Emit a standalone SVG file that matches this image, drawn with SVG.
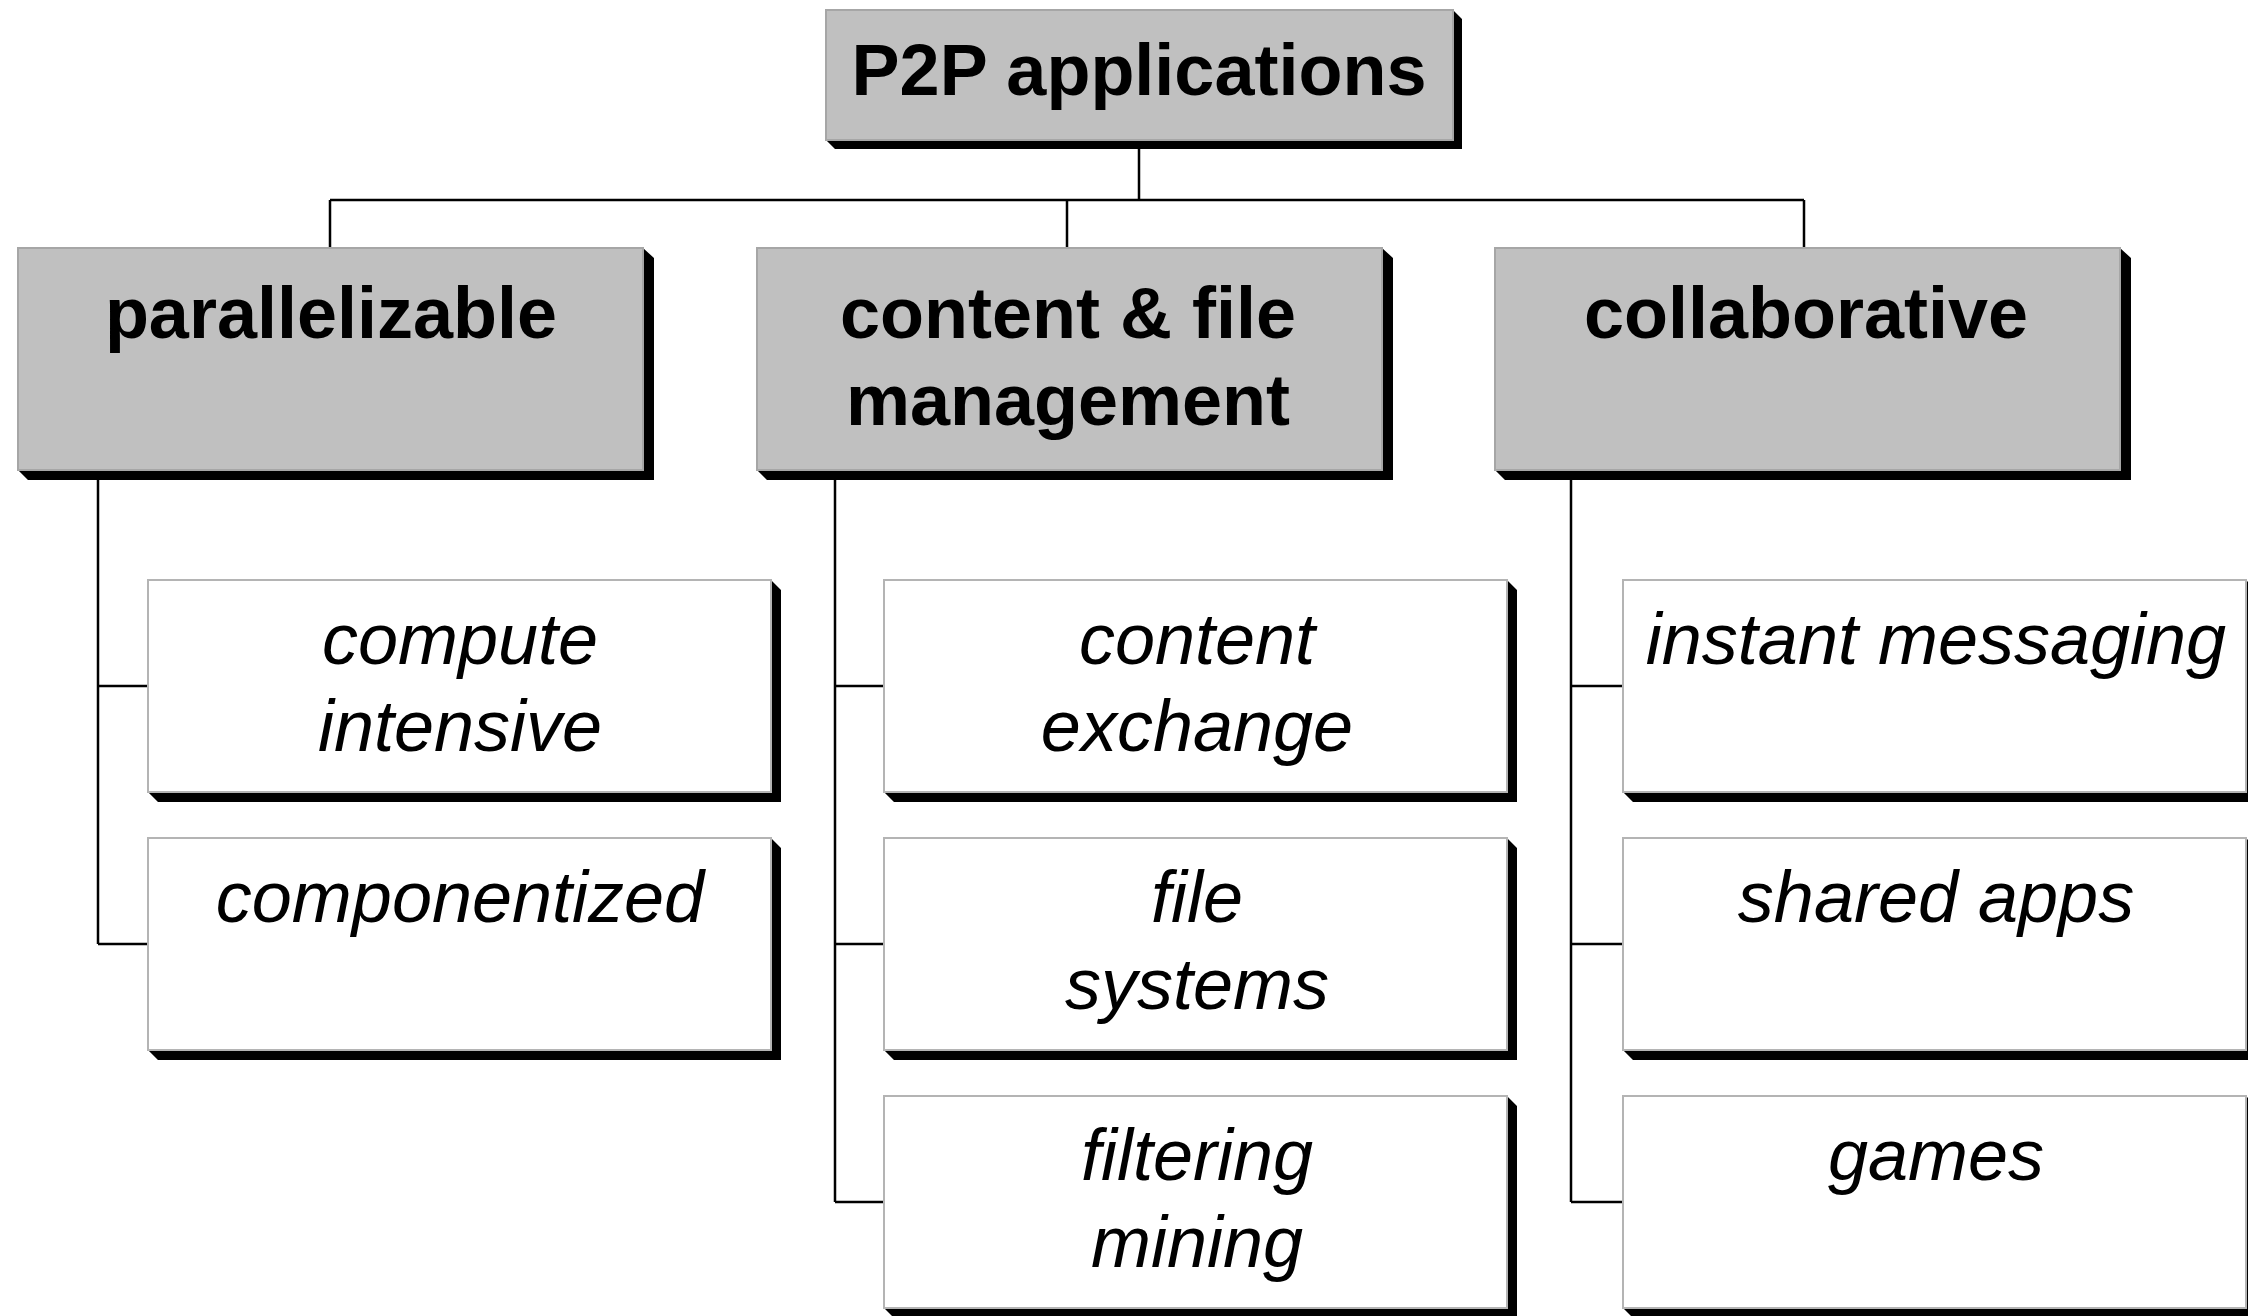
<svg xmlns="http://www.w3.org/2000/svg" width="2248" height="1316" viewBox="0 0 2248 1316">
<style>
.bg{fill:#ffffff}
.gray{fill:#c0c0c0;stroke:#a6a6a6;stroke-width:2}
.white{fill:#ffffff;stroke:#b4b4b4;stroke-width:2}
.sh{fill:#000000}
.hd{font-family:"Liberation Sans",Arial,sans-serif;font-weight:bold;font-size:72px;fill:#000;text-anchor:middle}
.it{font-family:"Liberation Sans",Arial,sans-serif;font-style:italic;font-size:72px;fill:#000;text-anchor:middle}
.ln{stroke:#000;stroke-width:2.5;fill:none}
</style>
<rect class="bg" x="0" y="0" width="2248" height="1316"/>
<g id="connectors">
<path class="ln" d="M1139,140 V200 M330,200 H1804 M330,200 V248 M1067,200 V248 M1804,200 V248"/>
<path class="ln" d="M98,470 V944 M98,686 H148 M98,944 H148"/>
<path class="ln" d="M835,470 V1202 M835,686 H884 M835,944 H884 M835,1202 H884"/>
<path class="ln" d="M1571,470 V1202 M1571,686 H1623 M1571,944 H1623 M1571,1202 H1623"/>
</g>
<g id="root">
<polygon class="sh" points="826,140 1453,140 1453,10 1462,19 1462,149 835,149"/>
<rect class="gray" x="826" y="10" width="627" height="130"/>
<text class="hd" x="1139" y="95">P2P applications</text>
</g>
<g id="parallelizable">
<polygon class="sh" points="18,470 643,470 643,248 654,258 654,480 28,480"/>
<rect class="gray" x="18" y="248" width="625" height="222"/>
<text class="hd" x="331" y="338">parallelizable</text>
</g>
<g id="content">
<polygon class="sh" points="757,470 1382,470 1382,248 1393,258 1393,480 767,480"/>
<rect class="gray" x="757" y="248" width="625" height="222"/>
<text class="hd" x="1068" y="338">content &amp; file</text>
<text class="hd" x="1068" y="425">management</text>
</g>
<g id="collaborative">
<polygon class="sh" points="1495,470 2120,470 2120,248 2131,258 2131,480 1505,480"/>
<rect class="gray" x="1495" y="248" width="625" height="222"/>
<text class="hd" x="1806" y="338">collaborative</text>
</g>
<g id="compute">
<polygon class="sh" points="148,792 771,792 771,580 781,590 781,802 158,802"/>
<rect class="white" x="148" y="580" width="623" height="212"/>
<text class="it" x="460" y="664">compute</text>
<text class="it" x="460" y="751">intensive</text>
</g>
<g id="componentized">
<polygon class="sh" points="148,1050 771,1050 771,838 781,848 781,1060 158,1060"/>
<rect class="white" x="148" y="838" width="623" height="212"/>
<text class="it" x="460" y="922">componentized</text>
</g>
<g id="content-exchange">
<polygon class="sh" points="884,792 1507,792 1507,580 1517,590 1517,802 894,802"/>
<rect class="white" x="884" y="580" width="623" height="212"/>
<text class="it" x="1197" y="664">content</text>
<text class="it" x="1197" y="751">exchange</text>
</g>
<g id="file-systems">
<polygon class="sh" points="884,1050 1507,1050 1507,838 1517,848 1517,1060 894,1060"/>
<rect class="white" x="884" y="838" width="623" height="212"/>
<text class="it" x="1197" y="922">file</text>
<text class="it" x="1197" y="1009">systems</text>
</g>
<g id="filtering-mining">
<polygon class="sh" points="884,1308 1507,1308 1507,1096 1517,1106 1517,1318 894,1318"/>
<rect class="white" x="884" y="1096" width="623" height="212"/>
<text class="it" x="1197" y="1180">filtering</text>
<text class="it" x="1197" y="1267">mining</text>
</g>
<g id="instant-messaging">
<polygon class="sh" points="1623,792 2246,792 2246,580 2256,590 2256,802 1633,802"/>
<rect class="white" x="1623" y="580" width="623" height="212"/>
<text class="it" x="1936" y="664">instant messaging</text>
</g>
<g id="shared-apps">
<polygon class="sh" points="1623,1050 2246,1050 2246,838 2256,848 2256,1060 1633,1060"/>
<rect class="white" x="1623" y="838" width="623" height="212"/>
<text class="it" x="1936" y="922">shared apps</text>
</g>
<g id="games">
<polygon class="sh" points="1623,1308 2246,1308 2246,1096 2256,1106 2256,1318 1633,1318"/>
<rect class="white" x="1623" y="1096" width="623" height="212"/>
<text class="it" x="1936" y="1180">games</text>
</g>
</svg>
